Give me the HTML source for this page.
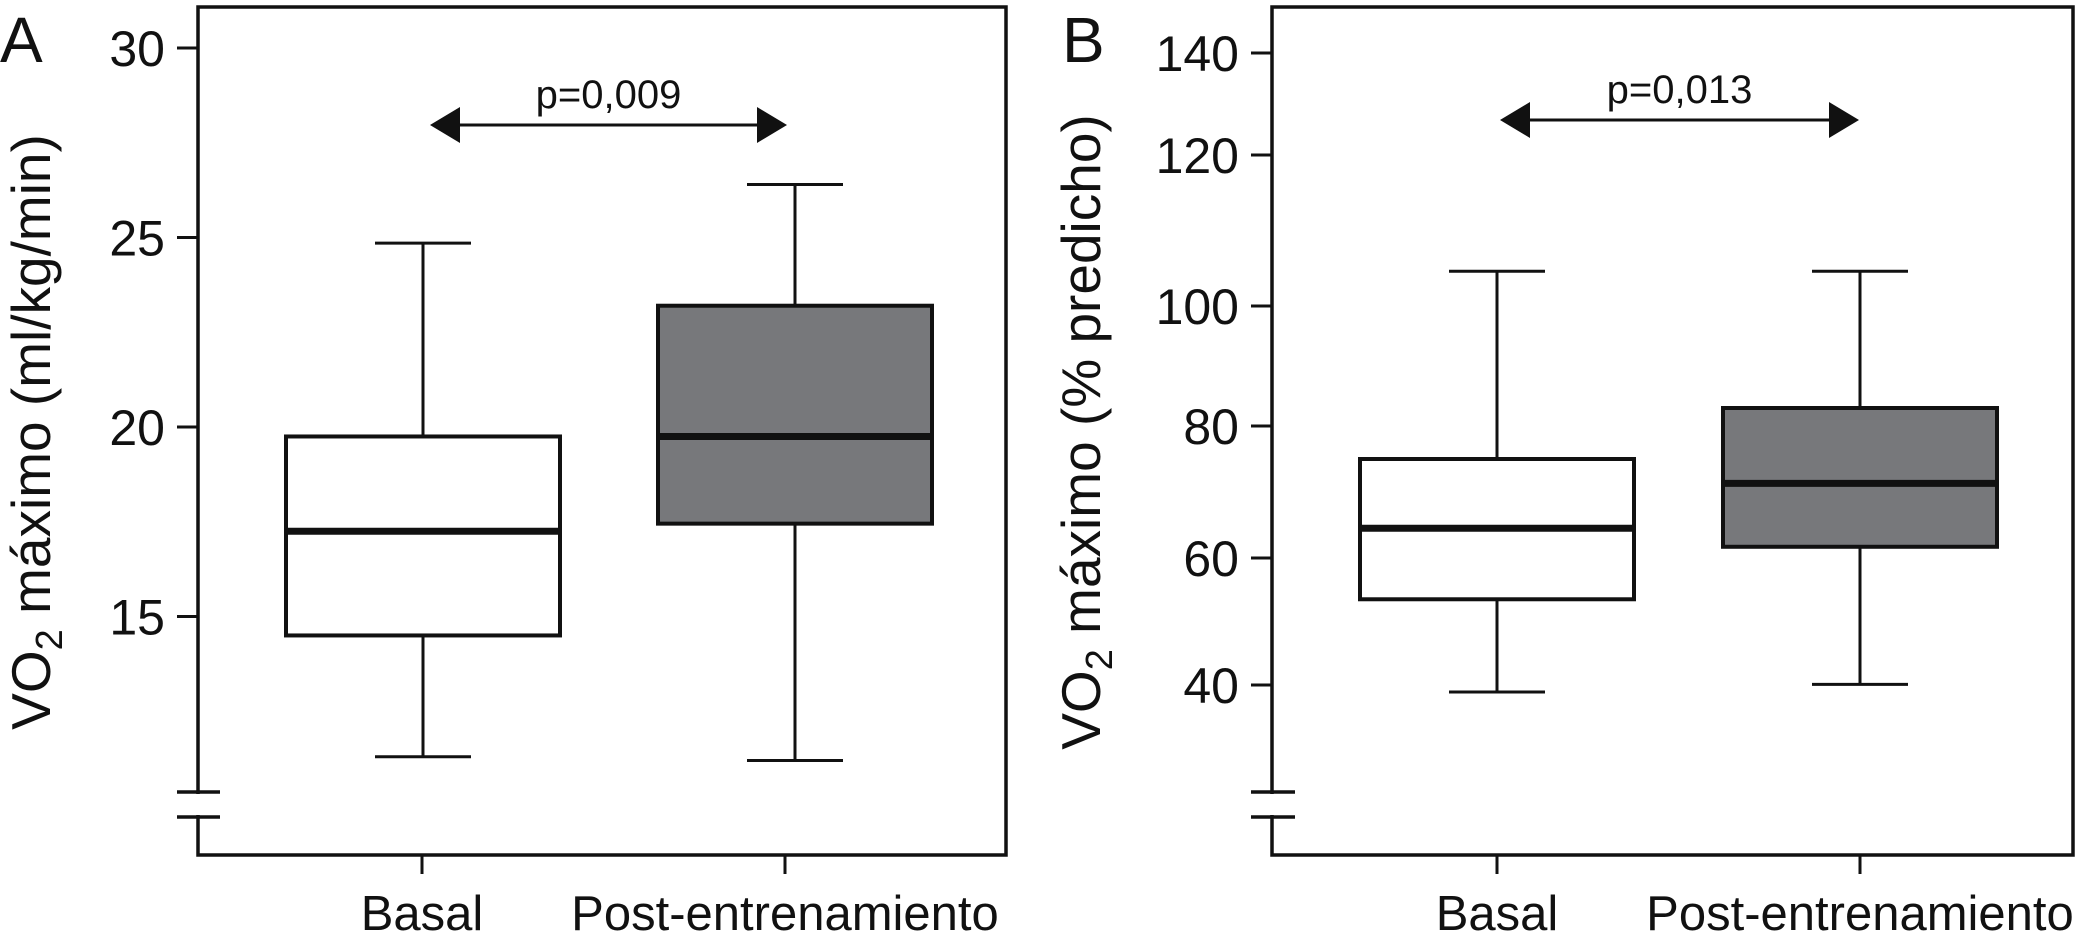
<!DOCTYPE html>
<html><head><meta charset="utf-8"><style>
html,body{margin:0;padding:0;background:#fff;}
svg{display:block;font-family:"Liberation Sans",Arial,sans-serif;}
</style></head><body>
<svg id="chart" width="2078" height="938" viewBox="0 0 2078 938" xmlns="http://www.w3.org/2000/svg"></svg>
<script>
const categories = ["Basal", "Post-entrenamiento"];
// Panel A: VO2 max ml/kg/min  [whiskerLow, q1, median, q3, whiskerHigh]
const panelAStats = [[11.3, 14.5, 17.25, 19.75, 24.85], [11.2, 17.45, 19.75, 23.2, 26.4]];
const panelATicks = [15, 20, 25, 30];
const panelAPValue = "p=0,009";
// Panel B: VO2 max % predicted
const panelBStats = [[38.9, 53.5, 64.5, 75, 104.6], [40.1, 61.7, 71.3, 83, 104.6]];
const panelBTicks = [40, 60, 80, 100, 120, 140];
const panelBPValue = "p=0,013";

const NS = "http://www.w3.org/2000/svg";
const svg = document.getElementById("chart");
function mk(tag, attrs, parent, text) {
  const e = document.createElementNS(NS, tag);
  for (const k in attrs) e.setAttribute(k, attrs[k]);
  if (text !== undefined) e.textContent = text;
  (parent || svg).appendChild(e);
  return e;
}

function drawPanel(cfg) {
  const g = mk("g", {});
  
  
  const y = cfg.yScale;
  const fr = mk("rect", {x: cfg.left, y: cfg.top, width: cfg.right - cfg.left, height: cfg.bottom - cfg.top, fill: "none", stroke: "#111", "stroke-width": 3.5}, g);
  
  
  const L = mk("text", {x: cfg.letterX, y: 62, "font-size": 64, fill: "#111"}, g, cfg.letter);
  
  
  cfg.ticks.forEach(v => {
    const ty = y(v);
    const t = mk("line", {x1: cfg.left - 21, x2: cfg.left, y1: ty, y2: ty, stroke: "#111", "stroke-width": 3}, g);
    
    
    const lb = mk("text", {x: cfg.left - 33, y: ty + 18, "font-size": 50, "text-anchor": "end", fill: "#111"}, g, String(v));
    
    
  });
  [792, 817].forEach(by => {
    const b = mk("line", {x1: cfg.left - 21, x2: cfg.left + cfg.breakLen, y1: by, y2: by, stroke: "#111", "stroke-width": 3.5}, g);
    
    
  });
  const gap = mk("rect", {x: cfg.left - 3, y: 794, width: 6, height: 21, fill: "#fff"}, g);
  
  
  const tt = mk("text", {x: 0, y: 0, "font-size": 55, "text-anchor": "middle", fill: "#111", transform: `translate(${cfg.titleX},432) rotate(-90)`}, g);
  
  
  mk("tspan", {}, tt, "VO");
  mk("tspan", {dy: 12, "font-size": 38}, tt, "2");
  mk("tspan", {dy: -12}, tt, " " + cfg.title);
  cfg.stats.forEach((s, i) => {
    const cx = cfg.cx[i], hw = cfg.boxHalf, cw = 48;
    const bg = mk("g", {}, g);
    
    
    mk("line", {x1: cx, x2: cx, y1: y(s[0]), y2: y(s[1]), stroke: "#111", "stroke-width": 3}, bg);
    mk("line", {x1: cx, x2: cx, y1: y(s[3]), y2: y(s[4]), stroke: "#111", "stroke-width": 3}, bg);
    mk("line", {x1: cx - cw, x2: cx + cw, y1: y(s[0]), y2: y(s[0]), stroke: "#111", "stroke-width": 3}, bg);
    mk("line", {x1: cx - cw, x2: cx + cw, y1: y(s[4]), y2: y(s[4]), stroke: "#111", "stroke-width": 3}, bg);
    mk("rect", {x: cx - hw, y: y(s[3]), width: 2 * hw, height: y(s[1]) - y(s[3]), fill: i === 0 ? "#fff" : "#77787b", stroke: "#111", "stroke-width": 4}, bg);
    mk("line", {x1: cx - hw, x2: cx + hw, y1: y(s[2]), y2: y(s[2]), stroke: "#111", "stroke-width": 7}, bg);
    const tx = cfg.tickX[i];
    const xt = mk("line", {x1: tx, x2: tx, y1: cfg.bottom, y2: cfg.bottom + 19, stroke: "#111", "stroke-width": 3}, g);
    
    
    const xl = mk("text", {x: tx, y: 930, "font-size": 49, "text-anchor": "middle", fill: "#111"}, g, categories[i]);
    
    
  });
  const ag = mk("g", {}, g);
  
  
  const a1 = cfg.arrow[0], a2 = cfg.arrow[1], ay = cfg.arrowY;
  mk("line", {x1: a1 + 20, x2: a2 - 20, y1: ay, y2: ay, stroke: "#111", "stroke-width": 3}, ag);
  mk("polygon", {points: `${a1},${ay} ${a1 + 30},${ay - 18} ${a1 + 30},${ay + 18}`, fill: "#111"}, ag);
  mk("polygon", {points: `${a2},${ay} ${a2 - 30},${ay - 18} ${a2 - 30},${ay + 18}`, fill: "#111"}, ag);
  const pt = mk("text", {x: (a1 + a2) / 2, y: ay - 17, "font-size": 40, "text-anchor": "middle", fill: "#111"}, g, cfg.p);
  
  
}

const yA = v => 48 + (30 - v) * 37.9;
const bCalVals = [40, 60, 80, 100, 120, 140];
const bCalPix = [685, 558, 426, 306, 155, 53];
const yB = v => {
  let i = 0;
  while (i < bCalVals.length - 2 && v > bCalVals[i + 1]) i++;
  const t = (v - bCalVals[i]) / (bCalVals[i + 1] - bCalVals[i]);
  return bCalPix[i] + t * (bCalPix[i + 1] - bCalPix[i]);
};

drawPanel({name: "panel-a", letter: "A", letterX: 0, left: 198, right: 1006, top: 7, bottom: 855,
  yScale: yA, ticks: panelATicks, stats: panelAStats, cx: [423, 795], tickX: [422, 785], boxHalf: 137, breakLen: 22,
  title: "máximo (ml/kg/min)", titleX: 50, arrow: [430, 787], arrowY: 125, p: panelAPValue});
drawPanel({name: "panel-b", letter: "B", letterX: 1062, left: 1272, right: 2073, top: 7, bottom: 855,
  yScale: yB, ticks: panelBTicks, stats: panelBStats, cx: [1497, 1860], tickX: [1497, 1860], boxHalf: 137, breakLen: 23,
  title: "máximo (% predicho)", titleX: 1100, arrow: [1500, 1859], arrowY: 120, p: panelBPValue});
</script>
</body></html>
